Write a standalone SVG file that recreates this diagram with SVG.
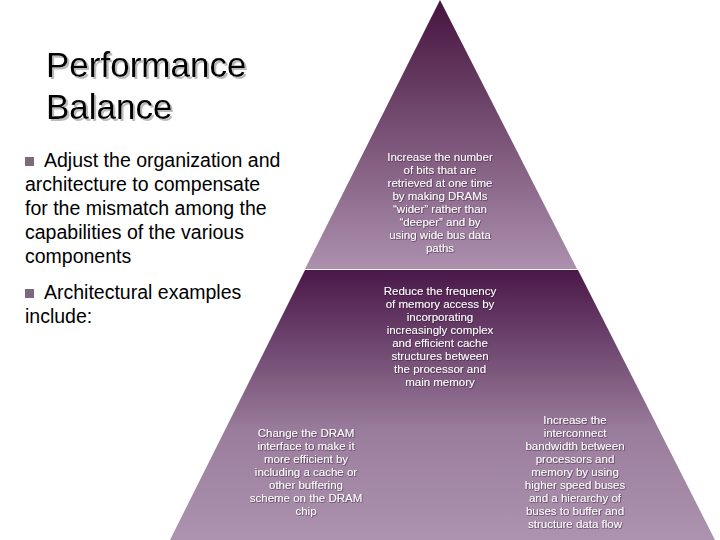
<svg xmlns="http://www.w3.org/2000/svg" width="720" height="540" viewBox="0 0 720 540">
<defs>
<linearGradient id="g1" x1="0" y1="0" x2="0" y2="1"><stop offset="0" stop-color="#46143f"/><stop offset="1" stop-color="#ac90ae"/></linearGradient>
<linearGradient id="g2" x1="0" y1="0" x2="0" y2="1"><stop offset="0" stop-color="#4a1849"/><stop offset="0.6" stop-color="#9a7d9c"/><stop offset="1" stop-color="#ad93b0"/></linearGradient>
<filter id="sh" x="-5%" y="-5%" width="115%" height="130%"><feDropShadow dx="2" dy="2" stdDeviation="0.5" flood-color="#bbb"/></filter>
<filter id="ts" x="-5%" y="-5%" width="110%" height="110%"><feDropShadow dx="0.6" dy="0.6" stdDeviation="0.3" flood-color="#2a0a2a" flood-opacity="0.8"/></filter>
<style>
.t{font-family:"Liberation Sans",Arial,sans-serif;font-size:11.5px;fill:#fff;text-anchor:middle}
.b{font-family:"Liberation Sans",Arial,sans-serif;font-size:19.5px;fill:#000}
.h{font-family:"Liberation Sans",Arial,sans-serif;font-size:35px;fill:#000}
</style>
</defs>
<rect width="720" height="540" fill="#fff"/>
<g id="title" filter="url(#sh)">
<text class="h"><tspan x="46" y="77">Performance</tspan><tspan x="46" y="119">Balance</tspan></text>
</g>
<g id="bullets">
<rect x="25" y="157" width="9" height="9" fill="#7a6a7c"/>
<text class="b"><tspan x="44" y="167">Adjust the organization and</tspan><tspan x="25" y="191">architecture to compensate</tspan><tspan x="25" y="215">for the mismatch among the</tspan><tspan x="25" y="239">capabilities of the various</tspan><tspan x="25" y="263">components</tspan></text>
<rect x="25" y="289" width="9" height="9" fill="#7a6a7c"/>
<text class="b"><tspan x="44" y="299">Architectural examples</tspan><tspan x="25" y="323">include:</tspan></text>
</g>
<g id="top">
<polygon points="440,0 577,269 305,269" fill="url(#g1)"/>
<text class="t" filter="url(#ts)"><tspan x="440" y="161">Increase the number</tspan><tspan x="440" y="174">of bits that are</tspan><tspan x="440" y="187">retrieved at one time</tspan><tspan x="440" y="200">by making DRAMs</tspan><tspan x="440" y="213">“wider” rather than</tspan><tspan x="440" y="226">“deeper” and by</tspan><tspan x="440" y="239">using wide bus data</tspan><tspan x="440" y="252">paths</tspan></text>
</g>
<g id="bottom">
<polygon points="305,270 578,270 715,540 170,540" fill="url(#g2)"/>
<text class="t" filter="url(#ts)"><tspan x="440" y="295">Reduce the frequency</tspan><tspan x="440" y="308">of memory access by</tspan><tspan x="440" y="321">incorporating</tspan><tspan x="440" y="334">increasingly complex</tspan><tspan x="440" y="347">and efficient cache</tspan><tspan x="440" y="360">structures between</tspan><tspan x="440" y="373">the processor and</tspan><tspan x="440" y="386">main memory</tspan></text>
<text class="t" filter="url(#ts)"><tspan x="306" y="437">Change the DRAM</tspan><tspan x="306" y="450">interface to make it</tspan><tspan x="306" y="463">more efficient by</tspan><tspan x="306" y="476">including a cache or</tspan><tspan x="306" y="489">other buffering</tspan><tspan x="306" y="502">scheme on the DRAM</tspan><tspan x="306" y="515">chip</tspan></text>
<text class="t" filter="url(#ts)"><tspan x="575" y="424">Increase the</tspan><tspan x="575" y="437">interconnect</tspan><tspan x="575" y="450">bandwidth between</tspan><tspan x="575" y="463">processors and</tspan><tspan x="575" y="476">memory by using</tspan><tspan x="575" y="489">higher speed buses</tspan><tspan x="575" y="502">and a hierarchy of</tspan><tspan x="575" y="515">buses to buffer and</tspan><tspan x="575" y="528">structure data flow</tspan></text>
</g>
</svg>
